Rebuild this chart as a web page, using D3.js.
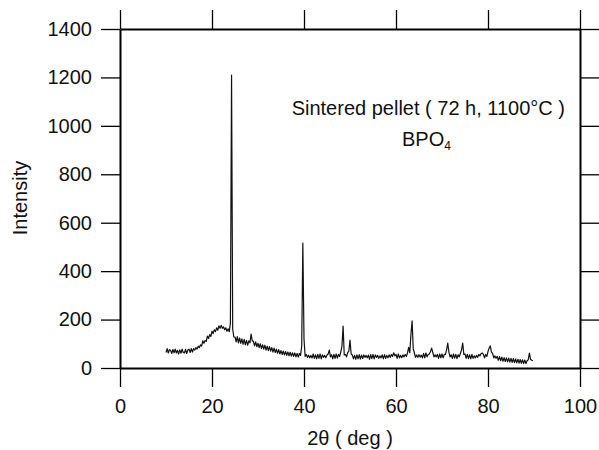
<!DOCTYPE html>
<html>
<head>
<meta charset="utf-8">
<script src="https://cdn.jsdelivr.net/npm/d3@7"></script>
<style>
  body { margin: 0; background: #fff; }
  svg { display: block; font-family: "Liberation Sans", Arial, sans-serif; }
  .axis path, .axis line { stroke: #000; }
  .axis text { font-size: 20px; fill: #111; }
</style>
</head>
<body>
<svg width="599" height="450"></svg>
<script>
// scan settings of the diffractometer
const scanStart = 10;
const scanStep = 0.25;

// intensity, 4 readings per degree from 10 to 89.75
const intensity = [
  64, 80, 62, 76,   72, 60, 77, 63,   78, 62, 73, 58,   75, 61, 78, 64,
  62, 77, 60, 74,   78, 64, 80, 66,   80, 74, 84, 78,   90, 84, 96, 90,
  112, 102, 114, 110, 132, 122, 138, 130, 152, 142, 158, 150, 166, 156, 174, 164,
  176, 164, 170, 158, 166, 152, 162, 150, 185, 1210, 160, 128, 128, 108, 130, 104,
  124, 102, 120, 98,  118, 96, 114, 94,  112, 104, 140, 112, 110, 92, 108, 88,
  102, 84, 100, 80,  96, 78, 94, 74,   90, 72, 88, 70,   84, 66, 82, 64,
  78, 61, 76, 58,   72, 56, 70, 54,   68, 52, 66, 50,   65, 49, 63, 48,
  62, 46, 60, 45,   60, 52, 90, 516,  120, 48, 56, 44,  53, 42, 52, 41,
  58, 40, 54, 38,   56, 40, 58, 38,   54, 44, 52, 42,   54, 58, 74, 46,
  55, 38, 56, 40,   58, 41, 56, 48,   66, 90, 173, 54,  56, 46, 64, 70,
  115, 58, 54, 38,  52, 36, 54, 38,   55, 37, 53, 39,   54, 44, 52, 42,
  53, 36, 55, 39,   56, 38, 54, 44,   52, 40, 50, 42,   54, 38, 55, 40,
  52, 42, 54, 44,   56, 48, 63, 50,   56, 40, 58, 42,   52, 42, 54, 46,
  56, 48, 62, 85,   62, 140, 195, 80, 62, 44, 54, 44,   55, 45, 53, 42,
  60, 42, 62, 46,   56, 58, 68, 82,   64, 46, 54, 46,   56, 40, 58, 42,
  58, 42, 56, 56,   75, 103, 66, 46,  55, 40, 58, 41,   56, 39, 55, 46,
  60, 75, 103, 56,  58, 40, 56, 39,   54, 38, 56, 40,   50, 42, 52, 44,
  56, 50, 60, 62,   56, 42, 56, 48,   68, 82, 91, 66,   60, 42, 50, 40,
  48, 32, 47, 30,   45, 28, 43, 27,   42, 25, 41, 24,   40, 23, 39, 22,
  37, 21, 36, 20,   35, 19, 34, 18,   33, 18, 30, 34,   62, 36, 32, 30
];

const xTicks = [0, 20, 40, 60, 80, 100];
const yTicks = [0, 200, 400, 600, 800, 1000, 1200, 1400];

const svg = d3.select('svg');

const x = d3.scaleLinear().domain([0, 100]).range([120, 580]);
const y = d3.scaleLinear().domain([0, 1400]).range([368, 29]);
const tick = 19;

// frame: ticks stick out on all four sides
svg.append('g').attr('class', 'axis')
    .attr('transform', `translate(0, ${y(0)})`)
    .call(d3.axisBottom(x).tickValues(xTicks).tickSizeInner(tick).tickSizeOuter(0).tickPadding(12));
svg.append('g').attr('class', 'axis')
    .attr('transform', `translate(0, ${y(1400)})`)
    .call(d3.axisTop(x).tickValues(xTicks).tickSizeInner(tick).tickSizeOuter(0).tickFormat(''));
svg.append('g').attr('class', 'axis')
    .attr('transform', `translate(${x(0)}, 0)`)
    .call(d3.axisLeft(y).tickValues(yTicks).tickFormat(d3.format('d')).tickSizeInner(tick).tickSizeOuter(0).tickPadding(9));
svg.append('g').attr('class', 'axis')
    .attr('transform', `translate(${x(100)}, 0)`)
    .call(d3.axisRight(y).tickValues(yTicks).tickSizeInner(tick).tickSizeOuter(0).tickFormat(''));

svg.selectAll('.axis path').attr('stroke-width', 2);
svg.selectAll('.axis line').attr('stroke-width', 1.3);

const line = d3.line()
    .x((d, i) => x(scanStart + i * scanStep))
    .y(d => y(d));

svg.append('path')
    .datum(intensity)
    .attr('fill', 'none')
    .attr('stroke', '#111')
    .attr('stroke-width', 1.2)
    .attr('stroke-linejoin', 'round')
    .attr('d', line);

// annotation
svg.append('text')
    .attr('x', 565)
    .attr('y', 115)
    .attr('text-anchor', 'end')
    .attr('font-size', 20)
    .attr('fill', '#111')
    .text('Sintered pellet ( 72 h, 1100°C )');

const bpo = svg.append('text')
    .attr('x', 402)
    .attr('y', 146)
    .attr('font-size', 20)
    .attr('fill', '#111');
bpo.append('tspan').text('BPO');
bpo.append('tspan').attr('font-size', 12).attr('dy', 4).text('4');

// axis titles
svg.append('text')
    .attr('x', 350)
    .attr('y', 445)
    .attr('text-anchor', 'middle')
    .attr('font-size', 20)
    .attr('fill', '#111')
    .text('2θ ( deg )');

svg.append('text')
    .attr('transform', 'translate(27, 198) rotate(-90)')
    .attr('text-anchor', 'middle')
    .attr('font-size', 20)
    .attr('fill', '#111')
    .text('Intensity');
</script>
</body>
</html>
